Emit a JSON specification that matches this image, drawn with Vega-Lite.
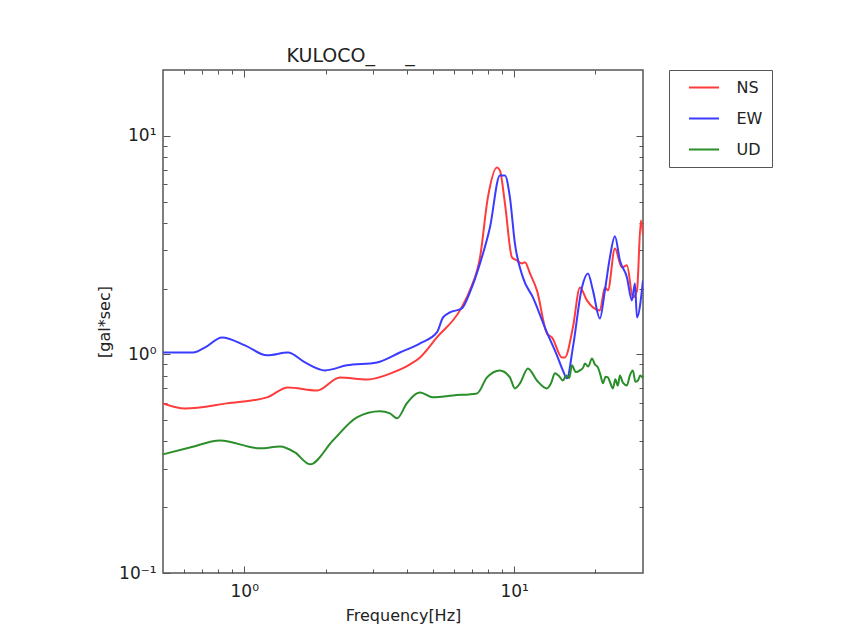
{
  "$schema": "https://vega.github.io/schema/vega-lite/v6.json",
  "width": 480,
  "height": 503,
  "autosize": {"type": "none"},
  "padding": {"left": 163, "top": 70, "right": 223, "bottom": 64},
  "background": "white",
  "title": {"text": "KULOCO_\u00a0\u00a0\u00a0\u00a0\u00a0_", "anchor": "start", "dx": 190, "fontSize": 19, "fontWeight": "normal", "font": "DejaVu Sans", "color": "#222", "offset": 4},
  "data": {"values": [
    {"f":0.5,"v":0.597,"c":"NS"},{"f":0.603,"v":0.566,"c":"NS"},{"f":0.863,"v":0.597,"c":"NS"},{"f":1.214,"v":0.636,"c":"NS"},{"f":1.452,"v":0.706,"c":"NS"},{"f":1.86,"v":0.684,"c":"NS"},{"f":2.262,"v":0.785,"c":"NS"},{"f":2.85,"v":0.768,"c":"NS"},{"f":3.56,"v":0.827,"c":"NS"},{"f":4.11,"v":0.9,"c":"NS"},{"f":4.48,"v":0.969,"c":"NS"},{"f":5.17,"v":1.196,"c":"NS"},{"f":6.295,"v":1.59,"c":"NS"},{"f":6.85,"v":1.963,"c":"NS"},{"f":7.47,"v":2.78,"c":"NS"},{"f":7.99,"v":5.23,"c":"NS"},{"f":8.63,"v":7.17,"c":"NS"},{"f":8.85,"v":6.95,"c":"NS"},{"f":9.24,"v":4.91,"c":"NS"},{"f":9.81,"v":2.78,"c":"NS"},{"f":10.23,"v":2.69,"c":"NS"},{"f":10.68,"v":2.608,"c":"NS"},{"f":10.96,"v":2.64,"c":"NS"},{"f":11.44,"v":2.347,"c":"NS"},{"f":12.14,"v":1.963,"c":"NS"},{"f":13.22,"v":1.247,"c":"NS"},{"f":13.8,"v":1.196,"c":"NS"},{"f":15.02,"v":0.969,"c":"NS"},{"f":15.41,"v":0.969,"c":"NS"},{"f":16.5,"v":1.329,"c":"NS"},{"f":17.52,"v":2.025,"c":"NS"},{"f":18.6,"v":1.766,"c":"NS"},{"f":19.57,"v":1.641,"c":"NS"},{"f":20.77,"v":1.59,"c":"NS"},{"f":21.68,"v":2.025,"c":"NS"},{"f":22.24,"v":1.963,"c":"NS"},{"f":23.61,"v":3.05,"c":"NS"},{"f":25.06,"v":2.5,"c":"NS"},{"f":26.16,"v":2.555,"c":"NS"},{"f":27.53,"v":1.823,"c":"NS"},{"f":28.5,"v":1.963,"c":"NS"},{"f":29.47,"v":4.1,"c":"NS"},{"f":30,"v":3.5,"c":"NS"},
    {"f":0.5,"v":1.02,"c":"EW"},{"f":0.646,"v":1.02,"c":"EW"},{"f":0.716,"v":1.077,"c":"EW"},{"f":0.827,"v":1.196,"c":"EW"},{"f":1.006,"v":1.1,"c":"EW"},{"f":1.214,"v":0.99,"c":"EW"},{"f":1.452,"v":1.02,"c":"EW"},{"f":1.679,"v":0.919,"c":"EW"},{"f":1.991,"v":0.845,"c":"EW"},{"f":2.4,"v":0.891,"c":"EW"},{"f":3.1,"v":0.919,"c":"EW"},{"f":3.77,"v":1.02,"c":"EW"},{"f":4.48,"v":1.123,"c":"EW"},{"f":5.17,"v":1.26,"c":"EW"},{"f":5.45,"v":1.477,"c":"EW"},{"f":5.78,"v":1.556,"c":"EW"},{"f":6.4,"v":1.623,"c":"EW"},{"f":6.85,"v":1.921,"c":"EW"},{"f":7.47,"v":2.608,"c":"EW"},{"f":8.13,"v":3.81,"c":"EW"},{"f":8.85,"v":6.59,"c":"EW"},{"f":9.24,"v":6.59,"c":"EW"},{"f":9.64,"v":5.23,"c":"EW"},{"f":10.06,"v":3.22,"c":"EW"},{"f":10.77,"v":2.25,"c":"EW"},{"f":11.73,"v":1.823,"c":"EW"},{"f":13.22,"v":1.26,"c":"EW"},{"f":14.4,"v":0.99,"c":"EW"},{"f":15.15,"v":0.845,"c":"EW"},{"f":15.68,"v":0.777,"c":"EW"},{"f":16.5,"v":1.077,"c":"EW"},{"f":17.82,"v":2.025,"c":"EW"},{"f":18.76,"v":2.347,"c":"EW"},{"f":19.57,"v":1.963,"c":"EW"},{"f":20.77,"v":1.46,"c":"EW"},{"f":21.68,"v":1.963,"c":"EW"},{"f":22.62,"v":2.78,"c":"EW"},{"f":23.61,"v":3.47,"c":"EW"},{"f":24.64,"v":2.69,"c":"EW"},{"f":26.16,"v":2.25,"c":"EW"},{"f":27.29,"v":1.766,"c":"EW"},{"f":28.0,"v":2.11,"c":"EW"},{"f":28.5,"v":1.477,"c":"EW"},{"f":30,"v":2.18,"c":"EW"},
    {"f":0.5,"v":0.349,"c":"UD"},{"f":0.629,"v":0.375,"c":"UD"},{"f":0.813,"v":0.404,"c":"UD"},{"f":1.144,"v":0.372,"c":"UD"},{"f":1.357,"v":0.379,"c":"UD"},{"f":1.541,"v":0.356,"c":"UD"},{"f":1.752,"v":0.314,"c":"UD"},{"f":2.13,"v":0.404,"c":"UD"},{"f":2.615,"v":0.515,"c":"UD"},{"f":3.18,"v":0.549,"c":"UD"},{"f":3.465,"v":0.537,"c":"UD"},{"f":3.68,"v":0.51,"c":"UD"},{"f":4.0,"v":0.597,"c":"UD"},{"f":4.36,"v":0.663,"c":"UD"},{"f":4.48,"v":0.67,"c":"UD"},{"f":5.0,"v":0.636,"c":"UD"},{"f":5.93,"v":0.649,"c":"UD"},{"f":7.28,"v":0.663,"c":"UD"},{"f":7.93,"v":0.785,"c":"UD"},{"f":8.85,"v":0.845,"c":"UD"},{"f":9.64,"v":0.785,"c":"UD"},{"f":10.06,"v":0.699,"c":"UD"},{"f":10.5,"v":0.737,"c":"UD"},{"f":11.24,"v":0.863,"c":"UD"},{"f":12.14,"v":0.76,"c":"UD"},{"f":13.22,"v":0.699,"c":"UD"},{"f":13.7,"v":0.74,"c":"UD"},{"f":14.16,"v":0.819,"c":"UD"},{"f":14.6,"v":0.8,"c":"UD"},{"f":15.15,"v":0.76,"c":"UD"},{"f":15.6,"v":0.8,"c":"UD"},{"f":16.0,"v":0.78,"c":"UD"},{"f":16.36,"v":0.891,"c":"UD"},{"f":16.9,"v":0.83,"c":"UD"},{"f":17.52,"v":0.845,"c":"UD"},{"f":18.0,"v":0.87,"c":"UD"},{"f":18.28,"v":0.909,"c":"UD"},{"f":18.8,"v":0.88,"c":"UD"},{"f":19.41,"v":0.959,"c":"UD"},{"f":19.9,"v":0.9,"c":"UD"},{"f":20.42,"v":0.872,"c":"UD"},{"f":20.9,"v":0.8,"c":"UD"},{"f":21.31,"v":0.737,"c":"UD"},{"f":21.8,"v":0.79,"c":"UD"},{"f":22.24,"v":0.785,"c":"UD"},{"f":22.7,"v":0.74,"c":"UD"},{"f":23.21,"v":0.699,"c":"UD"},{"f":23.7,"v":0.77,"c":"UD"},{"f":24.2,"v":0.72,"c":"UD"},{"f":24.64,"v":0.8,"c":"UD"},{"f":25.3,"v":0.74,"c":"UD"},{"f":26.16,"v":0.721,"c":"UD"},{"f":26.8,"v":0.8,"c":"UD"},{"f":27.53,"v":0.845,"c":"UD"},{"f":28.1,"v":0.75,"c":"UD"},{"f":28.73,"v":0.76,"c":"UD"},{"f":29.3,"v":0.8,"c":"UD"},{"f":30,"v":0.777,"c":"UD"}
  ]},
  "layer": [
    {
      "mark": {"type": "line", "strokeWidth": 2, "interpolate": "monotone", "clip": true},
      "encoding": {
        "x": {"field": "f", "type": "quantitative", "scale": {"type": "log", "domain": [0.5, 30]},
          "axis": {"orient": "bottom", "values": [0.6,0.7,0.8,0.9,1,2,3,4,5,6,7,8,9,10,20],
            "labelExpr": "datum.value == 1 ? '10⁰' : datum.value == 10 ? '10¹' : ''",
            "tickSize": {"condition": {"test": "datum.value == 1 || datum.value == 10", "value": -7}, "value": -4},
            "labelPadding": 17, "title": "Frequency[Hz]", "titlePadding": 5}},
        "y": {"field": "v", "type": "quantitative", "scale": {"type": "log", "domain": [0.1, 20]},
          "axis": {"orient": "left", "values": [0.1,0.2,0.3,0.4,0.5,0.6,0.7,0.8,0.9,1,2,3,4,5,6,7,8,9,10],
            "labelExpr": "datum.value == 0.1 ? '10⁻¹' : datum.value == 1 ? '10⁰' : datum.value == 10 ? '10¹' : ''",
            "tickSize": {"condition": {"test": "datum.value == 0.1 || datum.value == 1 || datum.value == 10", "value": -7}, "value": -4},
            "labelPadding": 14, "title": "[gal*sec]", "titlePadding": 6}},
        "color": {"field": "c", "type": "nominal", "sort": ["NS", "EW", "UD"],
          "scale": {"domain": ["NS", "EW", "UD"], "range": ["#ff3b3b", "#3b3bff", "#2a8f2a"]},
          "legend": {"title": null}}
      }
    },
    {
      "mark": {"type": "point", "opacity": 0},
      "encoding": {
        "x": {"field": "f", "type": "quantitative", "scale": {"type": "log", "domain": [0.5, 30]},
          "axis": {"orient": "top", "values": [0.6,0.7,0.8,0.9,1,2,3,4,5,6,7,8,9,10,20], "labels": false, "title": null,
            "tickSize": {"condition": {"test": "datum.value == 1 || datum.value == 10", "value": -7}, "value": -4}}},
        "y": {"field": "v", "type": "quantitative", "scale": {"type": "log", "domain": [0.1, 20]},
          "axis": {"orient": "right", "values": [0.2,0.3,0.4,0.5,0.6,0.7,0.8,0.9,1,2,3,4,5,6,7,8,9,10], "labels": false, "title": null,
            "tickSize": {"condition": {"test": "datum.value == 1 || datum.value == 10", "value": -7}, "value": -4}}}
      }
    }
  ],
  "resolve": {"axis": {"x": "independent", "y": "independent"}},
  "config": {
    "view": {"stroke": "#555", "strokeWidth": 1.5},
    "axis": {"domain": false, "grid": false, "tickColor": "#555", "tickWidth": 1,
      "labelFont": "DejaVu Sans", "labelFontSize": 17, "labelColor": "#222",
      "titleFont": "DejaVu Sans", "titleFontSize": 16, "titleFontWeight": "normal", "titleColor": "#222",
      "labelFlush": false, "labelOverlap": false},
    "legend": {"orient": "right", "offset": 25, "strokeColor": "#555", "padding": 9.5,
      "symbolType": "M0.5,0H6.5", "symbolSize": 100, "symbolStrokeWidth": 2,
      "labelFont": "DejaVu Sans", "labelFontSize": 16, "labelColor": "#222", "labelOffset": 42, "rowPadding": 15}
  }
}
